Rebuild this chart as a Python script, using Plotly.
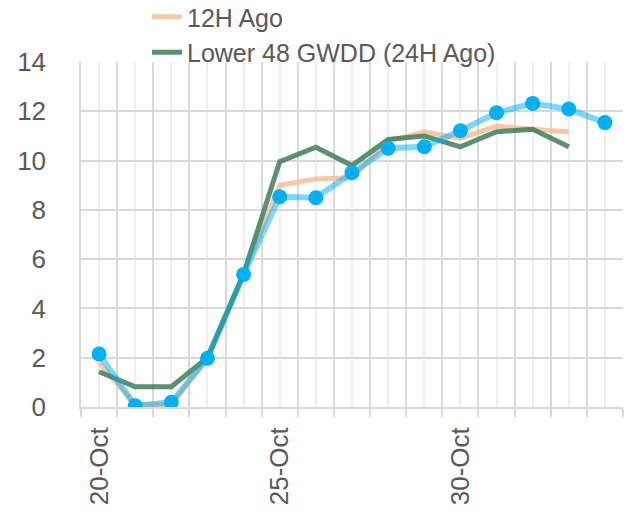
import plotly.graph_objects as go

dates = ["20-Oct", "21-Oct", "22-Oct", "23-Oct", "24-Oct", "25-Oct", "26-Oct", "27-Oct",
         "28-Oct", "29-Oct", "30-Oct", "31-Oct", "1-Nov", "2-Nov", "3-Nov"]
current = [2.15, 0.05, 0.19, 1.98, 5.38, 8.53, 8.49, 9.51, 10.5, 10.56, 11.21, 11.94, 12.32, 12.09, 11.54]
ago_12h = [1.8, 0.1, 0.1, 2.0, 5.4, 9.0, 9.25, 9.3, 10.77, 11.17, 10.9, 11.4, 11.27, 11.17, None]
ago_24h = [1.43, 0.82, 0.82, 2.0, 5.4, 9.96, 10.54, 9.8, 10.86, 11.0, 10.56, 11.17, 11.27, 10.56, None]
label_every = 5
y_ticks = [0, 2, 4, 6, 8, 10, 12, 14]

idx = list(range(len(dates)))
font = "Liberation Sans, Arial, sans-serif"
txt = "#595959"
grid = "#D9D9D9"

lab_vals = [i for i in idx if i % label_every == 0]
lab_text = [dates[i] for i in lab_vals]

fig = go.Figure()
fig.add_trace(go.Scatter(x=idx, y=ago_12h, mode="lines", name="12H Ago",
                         line=dict(color="rgba(246,188,148,0.8)", width=5)))
fig.add_trace(go.Scatter(x=idx, y=ago_24h, mode="lines", name="Lower 48 GWDD (24H Ago)",
                         line=dict(color="rgba(62,125,88,0.85)", width=5)))
fig.add_trace(go.Scatter(x=idx, y=current, mode="lines", name="Lower 48 GWDD",
                         line=dict(color="rgba(0,176,240,0.5)", width=6), showlegend=False))
fig.add_trace(go.Scatter(x=idx, y=current, mode="markers", showlegend=False,
                         marker=dict(color="#00B0F0", size=15)))
# invisible trace to activate the label axis
fig.add_trace(go.Scatter(x=lab_vals, y=[None] * len(lab_vals), xaxis="x2", mode="markers",
                         showlegend=False, hoverinfo="skip"))

fig.update_layout(
    width=627, height=512,
    margin=dict(l=73, r=12, t=54, b=113, autoexpand=False),
    paper_bgcolor="white", plot_bgcolor="white",
    font=dict(family=font, size=26, color=txt),
    legend=dict(x=(147 - 81) / 542, xanchor="left", y=1.0 + 68 / 345, yanchor="top",
                bgcolor="rgba(0,0,0,0)", font=dict(size=25, color=txt),
                tracegroupgap=0, itemwidth=30),
    xaxis=dict(range=[-0.5, len(dates) - 0.5], tickmode="linear", tick0=-0.5, dtick=1,
               showticklabels=False, ticks="outside", ticklen=8, tickcolor=grid, tickwidth=1.5,
               showgrid=True, gridcolor=grid, gridwidth=1.5, automargin=False,
               showline=True, linecolor=grid, linewidth=1.5, zeroline=False,
               minor=dict(tick0=0, dtick=1, showgrid=True, gridcolor="#EEEEEE", gridwidth=1.5, ticks="")),
    xaxis2=dict(overlaying="x", anchor="y", side="bottom", range=[-0.5, len(dates) - 0.5],
                tickmode="array", tickvals=lab_vals, ticktext=lab_text, tickangle=-90,
                showgrid=False, ticks="", showline=False, zeroline=False, automargin=False,
                tickfont=dict(size=26, color=txt), ticklabelstandoff=14),
    yaxis=dict(range=[0, 14], tickmode="array", tickvals=y_ticks, automargin=False,
               showgrid=True, gridcolor=grid, gridwidth=1.5, zeroline=False,
               showline=True, linecolor=grid, linewidth=1.5, ticks="",
               tickfont=dict(size=26, color=txt), ticklabelstandoff=28),
)
fig.write_html("out.html")
